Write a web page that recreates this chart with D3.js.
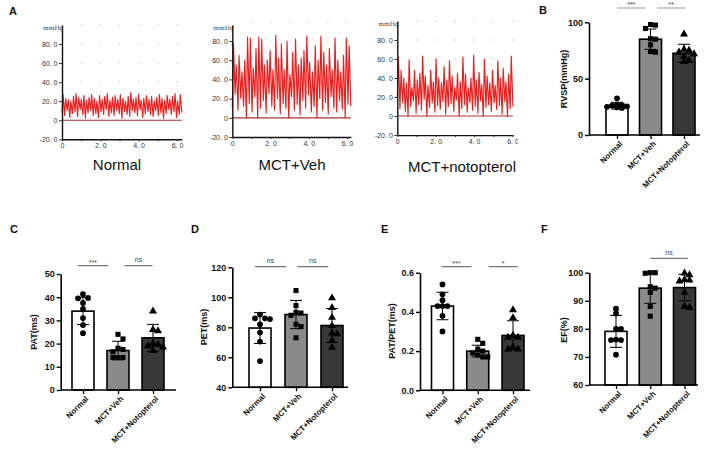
<!DOCTYPE html>
<html><head><meta charset="utf-8">
<script src="https://cdn.jsdelivr.net/npm/d3@7"></script>
<style>body{margin:0;background:#fff}svg{display:block;font-family:"Liberation Sans",Arial,sans-serif}</style>
</head><body><svg id="c" width="708" height="449"></svg>
<script>
// ---------------- data ----------------
const groups = ["Normal", "MCT+Veh", "MCT+Notopterol"];
const traceTitles = ["Normal", "MCT+Veh", "MCT+notopterol"];
const traceYTicks = [-20, 0, 20, 40, 60, 80];
const traceXTicks = [0, 1, 2, 3, 4, 5, 6];
const traceGridX = [1, 2, 3, 4, 5, 6];
const traceGridY = [20, 40, 60, 80, 100];

const normalPeaks = [27,23,22,20,25,28,24,22,26,21,24,27,23,20,26,22,25,28,21,24,26,22,27,23,20,25,29,22,24,27,21,23,26,22,25,20,24,27,23,21,26,22,25,28,20,27];
const normalTroughs = [8,5,10,3,7,9,4,11,6,2,8,10,5,7,3,9,6,11,4,8,5,10,7,2,9,6,4,10,8,5,11,3,7,9,6,4,10,5,8,2,7,11,6,9,3,6,8];
const vehPeaks = [78,55,65,48,60,84,83,52,72,84,82,55,60,70,50,86,62,77,50,80,45,68,82,55,62,70,85,58,48,75,60,85,68,55,72,50,83,60,48,65,83,75];
const vehTroughs = [10,25,8,20,12,0,15,6,22,0,10,18,5,25,12,8,20,4,15,10,0,22,8,14,3,18,10,24,6,12,0,20,8,16,4,22,10,6,18,9,0,14,12];
const notoPeaks = [62,48,40,35,59,30,48,38,45,63,42,32,48,36,60,40,35,52,38,58,42,30,45,36,62,44,30,40,64,38,46,33,60,42,35,48,32,58,40,50,36,44,63];
const notoTroughs = [20,8,14,5,0,10,16,3,12,6,18,0,9,14,4,11,7,15,2,10,13,5,17,0,8,12,4,14,6,10,3,16,0,9,12,5,14,7,11,2,15,0,8,10];

// Panel B: RVSP
const rvspMean = [26, 85, 72.5];
const rvspSD = [3, 9, 8];
const rvspNormal = [32.5, 27, 26.5, 26, 25.5, 25, 24.5, 24];
const rvspVeh = [98, 97.5, 94.5, 85.5, 85, 80, 74, 73.5];
const rvspNoto = [89.5, 76, 75, 73.5, 72, 70, 66, 65];
// Panel C: PAT
const patMean = [34, 17, 22.5];
const patSD = [5.8, 4, 5.8];
const patNormal = [41.3, 39.7, 39.5, 37.5, 35, 31, 28, 24.5];
const patVeh = [24, 22, 18, 17.5, 16.5, 14, 14, 14];
const patNoto = [34, 26, 25.5, 20, 19.5, 19, 18.5, 17];
// Panel D: PET
const petMean = [79.5, 88.5, 81.2];
const petSD = [10.3, 9.4, 11.3];
const petNormal = [88.5, 86, 86, 85.5, 82, 76.5, 70.5, 57.5];
const petVeh = [104.5, 94.5, 90, 89.5, 88, 82, 80.5, 73];
const petNoto = [99.5, 93, 86.5, 81, 76, 75.5, 71, 66.5];
// Panel E: PAT/PET
const ratioMean = [0.43, 0.20, 0.28];
const ratioSD = [0.07, 0.03, 0.075];
const ratioNormal = [0.54, 0.49, 0.46, 0.43, 0.43, 0.43, 0.38, 0.30];
const ratioVeh = [0.26, 0.24, 0.21, 0.20, 0.19, 0.18, 0.17, 0.17];
const ratioNoto = [0.41, 0.37, 0.28, 0.27, 0.27, 0.22, 0.21, 0.21];
// Panel F: EF
const efMean = [79.1, 94.5, 94.7];
const efSD = [5.7, 5.4, 4.7];
const efNormal = [87.2, 85.5, 80, 80, 76.2, 76, 76, 70.8];
const efVeh = [100, 100, 99.8, 95, 94.5, 93, 88, 84.5];
const efNoto = [99.8, 99.2, 97.5, 97.3, 97, 93, 88, 87.5];

const rvspTicks = [0, 50, 100];
const patTicks = [0, 10, 20, 30, 40, 50];
const petTicks = [40, 60, 80, 100, 120];
const ratioTicks = [0.0, 0.2, 0.4, 0.6];
const efTicks = [60, 70, 80, 90, 100];

// ---------------- drawing ----------------
const svg = d3.select("#c");
svg.append("rect").attr("width", 708).attr("height", 449).attr("fill", "#fff");
const defs = svg.append("defs");

function traceLabel(d) { return d === 0 ? "0" : d.toFixed(1).replace(".", ". "); }

function tracePanel(o) {
  const g = svg.append("g");
  const k = (o.yb - o.y80) / 100;
  const y = d3.scaleLinear().domain([-20, o.top]).range([o.yb, o.yb - (o.top + 20) * k]);
  const kx = (o.x6 - o.x0) / 6;
  const x = d3.scaleLinear().domain([0, o.T]).range([o.x0, o.x0 + o.T * kx]);
  traceGridX.forEach(gx => traceGridY.forEach(gy => {
    if (gx <= o.T && gy <= o.top + 4)
      g.append("rect").attr("x", x(gx) - 0.6).attr("y", y(gy) - 0.6).attr("width", 1.2).attr("height", 1.2).attr("fill", "#c4c4c4");
  }));
  const n = o.peaks.length, p = o.T / n;
  const pts = [];
  for (let i = 0; i < n; i++) {
    pts.push([i * p, o.troughs[i]]);
    pts.push([(i + 0.4) * p, o.peaks[i]]);
  }
  pts.push([o.T, o.troughs[n]]);
  g.append("path").attr("d", d3.line().x(d => x(d[0])).y(d => y(d[1]))(pts))
    .attr("fill", "none").attr("stroke", "#f01c1c").attr("stroke-width", 1.15).attr("stroke-linejoin", "round");
  g.append("line").attr("x1", x(0)).attr("x2", x(o.T)).attr("y1", y(0)).attr("y2", y(0))
    .attr("stroke", "#a83232").attr("stroke-width", 1.2);
  const ya = g.append("g").attr("transform", `translate(${o.x0},0)`)
    .call(d3.axisLeft(y).tickValues(traceYTicks).tickFormat(traceLabel).tickSize(3).tickSizeOuter(0));
  ya.select(".domain").attr("stroke", "#111").attr("stroke-width", 1.4);
  ya.selectAll(".tick line").attr("stroke", "#333");
  ya.selectAll("text").attr("font-size", 7).attr("fill", "#333").attr("x", -4.5);
  const xa = g.append("g").attr("transform", `translate(0,${o.yb})`)
    .call(d3.axisBottom(x).tickValues(traceXTicks.filter(t => t <= o.T)).tickFormat(d => d % 2 === 0 ? traceLabel(d) : "").tickSize(2).tickSizeOuter(0));
  xa.select(".domain").attr("stroke", "#111").attr("stroke-width", 1.4);
  xa.selectAll(".tick line").attr("stroke", "#333");
  xa.selectAll("text").attr("font-size", 7).attr("fill", "#333").attr("y", 4);
  if (o.clipX) {
    const id = "clip" + Math.round(o.x0);
    defs.append("clipPath").attr("id", id).append("rect").attr("x", 0).attr("y", 0).attr("width", o.clipX).attr("height", 449);
    xa.attr("clip-path", `url(#${id})`);
  }
  g.append("text").attr("x", o.x0 - 19).attr("y", y(o.top) + 5).attr("font-size", 6)
    .attr("font-family", "DejaVu Serif, serif").attr("fill", "#333").text("mmHg");
  g.append("text").attr("x", o.titleX).attr("y", o.titleY).attr("text-anchor", "middle")
    .attr("font-size", 15).attr("fill", "#111").text(o.title);
}

tracePanel({x0: 62, x6: 177, T: 6.25, yb: 139.3, y80: 44, top: 100, peaks: normalPeaks, troughs: normalTroughs, title: traceTitles[0], titleX: 117, titleY: 170});
tracePanel({x0: 232.3, x6: 347, T: 6.2, yb: 137, y80: 41, top: 97, peaks: vehPeaks, troughs: vehTroughs, title: traceTitles[1], titleX: 292, titleY: 170});
tracePanel({x0: 397.3, x6: 512.5, T: 6.02, yb: 135, y80: 40, top: 100, peaks: notoPeaks, troughs: notoTroughs, title: traceTitles[2], titleX: 462, titleY: 172, clipX: 518});

const barFills = ["#ffffff", "#8a8a8a", "#383838"];
const symbolTypes = [d3.symbolCircle, d3.symbolSquare, d3.symbolTriangle];
const symbolSizes = [26, 26, 28];

function swarm(vals, ys, cx, s) {
  const placed = [];
  const cands = [0, s, -s, 2 * s, -2 * s];
  vals.forEach(v => {
    const py = ys(v);
    let best = null, bestCol = Infinity;
    for (const off of cands) {
      let col = 0;
      placed.forEach(q => { const d = Math.hypot(q.x - (cx + off), q.y - py); if (d < s * 0.95) col += (s - d); });
      if (col === 0) { best = off; break; }
      if (col < bestCol) { bestCol = col; best = off; }
    }
    placed.push({x: cx + best, y: py, v});
  });
  return placed;
}

function barPanel(o) {
  const g = svg.append("g");
  const y = d3.scaleLinear().domain(o.domain).range(o.yRange);
  const xc = d3.scalePoint().domain(groups).range(o.centers);
  const bw = 22;
  const y0 = o.yRange[0];
  groups.forEach((gname, i) => {
    g.append("rect").attr("x", xc(gname) - bw / 2).attr("y", y(o.mean[i])).attr("width", bw)
      .attr("height", y0 - y(o.mean[i])).attr("fill", barFills[i]).attr("stroke", "#000").attr("stroke-width", 1.6);
  });
  groups.forEach((gname, i) => {
    const cx = xc(gname), hi = y(o.mean[i] + o.sd[i]), lo = y(o.mean[i] - o.sd[i]);
    const eb = g.append("g").attr("stroke", "#000").attr("stroke-width", 1);
    eb.append("line").attr("x1", cx).attr("x2", cx).attr("y1", hi).attr("y2", lo);
    eb.append("line").attr("x1", cx - 6).attr("x2", cx + 6).attr("y1", hi).attr("y2", hi);
    eb.append("line").attr("x1", cx - 6).attr("x2", cx + 6).attr("y1", lo).attr("y2", lo);
  });
  o.points.forEach((vals, i) => {
    const pl = swarm(vals, y, xc(groups[i]), 5);
    g.selectAll(null).data(pl).enter().append("path")
      .attr("transform", d => `translate(${d.x},${d.y})`)
      .attr("d", d3.symbol().type(symbolTypes[i]).size(symbolSizes[i]))
      .attr("fill", "#000");
  });
  const ya = g.append("g").attr("transform", `translate(${o.axisX},0)`)
    .call(d3.axisLeft(y).tickValues(o.ticks).tickFormat(o.fmt || d3.format("d")).tickSize(4).tickSizeOuter(0));
  ya.select(".domain").attr("stroke", "#000").attr("stroke-width", 1.6);
  ya.selectAll(".tick line").attr("stroke", "#000").attr("stroke-width", 1.4);
  ya.selectAll("text").attr("font-size", 9).attr("font-weight", "bold").attr("fill", "#111").attr("x", -6);
  g.append("line").attr("x1", o.axisX).attr("x2", o.xEnd).attr("y1", y0).attr("y2", y0).attr("stroke", "#000").attr("stroke-width", 1.6);
  const xa = g.append("g").attr("transform", `translate(0,${y0})`)
    .call(d3.axisBottom(xc).tickSize(4).tickSizeOuter(0));
  xa.select(".domain").remove();
  xa.selectAll(".tick line").attr("stroke", "#000").attr("stroke-width", 1.3);
  xa.selectAll("text").attr("font-size", 8).attr("font-weight", "bold").attr("fill", "#111")
    .attr("text-anchor", "end").attr("transform", "translate(2,6) rotate(-45)").attr("x", 0).attr("y", 0).attr("dy", "0.6em");
  g.append("text").attr("transform", `translate(${o.labelX},${o.labelY}) rotate(-90)`).attr("text-anchor", "middle")
    .attr("font-size", 9).attr("fill", "#111").attr("font-weight", "bold").text(o.label);
  o.sig.forEach(s => {
    const a = xc(groups[s.a]), b = xc(groups[s.b]);
    const mid = (a + b) / 2 + s.shift, half = s.len / 2;
    g.append("line").attr("x1", mid - half).attr("x2", mid + half).attr("y1", s.y).attr("y2", s.y)
      .attr("stroke", s.color || "#555").attr("stroke-width", 1);
    const isStar = s.text.indexOf("*") >= 0;
    g.append("text").attr("x", mid).attr("y", isStar ? s.y - 1 : s.y - 3.5).attr("text-anchor", "middle").attr("font-size", 7)
      .attr("fill", "#444").text(s.text);
  });
  svg.append("text").attr("x", o.letterX).attr("y", o.letterY).attr("font-size", 11).attr("font-weight", "bold").attr("fill", "#111").text(o.letter);
}

barPanel({letter: "B", letterX: 539, letterY: 14, axisX: 589, xEnd: 700, centers: [617, 684], domain: [0, 100], yRange: [135, 22.3],
  ticks: rvspTicks, mean: rvspMean, sd: rvspSD, points: [rvspNormal, rvspVeh, rvspNoto], label: "RVSP(mmHg)", labelX: 567, labelY: 79,
  sig: [{a: 0, b: 1, text: "***", y: 8, shift: -2.5, len: 28, color: "#999"}, {a: 1, b: 2, text: "**", y: 8, shift: 4, len: 28, color: "#999"}]});
barPanel({letter: "C", letterX: 10, letterY: 233, axisX: 60.7, xEnd: 176, centers: [83, 153], domain: [0, 50], yRange: [390, 274],
  ticks: patTicks, mean: patMean, sd: patSD, points: [patNormal, patVeh, patNoto], label: "PAT(ms)", labelX: 37, labelY: 332,
  sig: [{a: 0, b: 1, text: "***", y: 265.7, shift: -7.5, len: 30}, {a: 1, b: 2, text: "ns", y: 265.7, shift: 3, len: 28}]});
barPanel({letter: "D", letterX: 191, letterY: 233, axisX: 232.3, xEnd: 348, centers: [260, 332], domain: [40, 120], yRange: [387.3, 267.3],
  ticks: petTicks, mean: petMean, sd: petSD, points: [petNormal, petVeh, petNoto], label: "PET(ms)", labelX: 207, labelY: 327,
  sig: [{a: 0, b: 1, text: "ns", y: 266.7, shift: -7.5, len: 31}, {a: 1, b: 2, text: "ns", y: 266.7, shift: -1.2, len: 31}]});
barPanel({letter: "E", letterX: 381, letterY: 233, axisX: 420, xEnd: 530, centers: [442.5, 513], domain: [0, 0.6], yRange: [390.3, 272.7],
  ticks: ratioTicks, fmt: d3.format(".1f"), mean: ratioMean, sd: ratioSD, points: [ratioNormal, ratioVeh, ratioNoto], label: "PAT/PET(ms)", labelX: 395, labelY: 331,
  sig: [{a: 0, b: 1, text: "***", y: 266.7, shift: -3.7, len: 30}, {a: 1, b: 2, text: "*", y: 266.7, shift: 7.8, len: 29}]});
barPanel({letter: "F", letterX: 541, letterY: 233, axisX: 589.3, xEnd: 698, centers: [616, 684.5], domain: [60, 100], yRange: [385, 272.7],
  ticks: efTicks, mean: efMean, sd: efSD, points: [efNormal, efVeh, efNoto], label: "EF(%)", labelX: 567, labelY: 330,
  sig: [{a: 1, b: 2, text: "ns", y: 258.3, shift: 1.6, len: 37.7}]});

svg.append("text").attr("x", 9).attr("y", 15).attr("font-size", 11).attr("font-weight", "bold").attr("fill", "#111").text("A");
</script>
</body></html>
